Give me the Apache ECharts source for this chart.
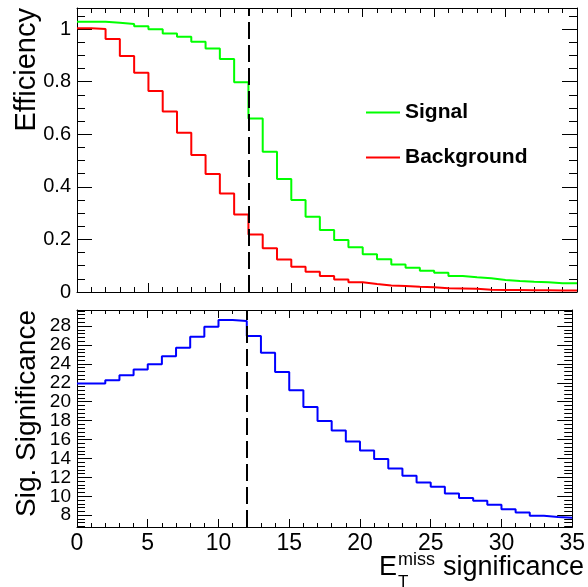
<!DOCTYPE html>
<html>
<head>
<meta charset="utf-8">
<script src="https://cdn.jsdelivr.net/npm/echarts@6/dist/echarts.min.js"></script>
<style>
html, body { margin: 0; padding: 0; background: #fff; }
#main { width: 588px; height: 587px; }
</style>
</head>
<body>
<div id="main"></div>
<script>
// bin edges of the histograms (35 bins of width 1)
var binEdges = [0,1,2,3,4,5,6,7,8,9,10,11,12,13,14,15,16,17,18,19,20,21,22,23,24,25,26,27,28,29,30,31,32,33,34,35];
var signalEff = [1.028,1.028,1.024,1.019,1.011,0.999,0.983,0.971,0.952,0.926,0.886,0.798,
	0.660,0.533,0.430,0.350,0.286,0.236,0.198,0.170,0.144,0.125,0.105,0.092,0.081,0.073,
	0.061,0.056,0.052,0.046,0.042,0.039,0.037,0.033,0.033];
var backgroundEff = [1.003,1.0,0.962,0.897,0.834,0.764,0.686,0.606,0.521,0.449,0.375,0.295,
	0.219,0.166,0.124,0.096,0.077,0.061,0.048,0.037,0.030,0.025,0.023,0.020,0.018,0.014,
	0.013,0.012,0.009,0.008,0.008,0.007,0.007,0.006,0.006];
var sigSignificance = [21.92,21.92,22.27,22.8,23.41,23.97,24.82,25.7,26.87,27.94,28.65,28.54,
	26.95,25.17,23.15,21.21,19.43,17.95,16.96,15.79,14.83,13.95,12.95,12.18,11.46,11.0,
	10.3,9.81,9.52,9.09,8.64,8.28,7.93,7.82,7.74];
var cutValue = 12;

var FONT = '"Liberation Sans", Arial, Helvetica, sans-serif';

function stepData(vals){
	var d = [];
	for(var i = 0; i < vals.length; i++){
		d.push([binEdges[i], vals[i]]);
	}
	d.push([binEdges[vals.length], vals[vals.length-1]]);
	return d;
}

function xAx(gridIndex, pos, showLabel, tickLen){
	return {
		type: 'value', gridIndex: gridIndex, position: pos,
		min: 0, max: 35, interval: 5,
		axisLine: { show: true, onZero: false, lineStyle: { color: '#000', width: 1 } },
		axisTick: { show: true, inside: true, length: tickLen, lineStyle: { color: '#000' } },
		minorTick: { show: true, splitNumber: 5, length: Math.round(tickLen/2), lineStyle: { color: '#000' } },
		splitLine: { show: false },
		axisLabel: { show: showLabel, color: '#000', fontFamily: FONT, fontSize: 23, margin: 5 }
	};
}

function yAx(gridIndex, pos, opts, showLabel){
	var a = {
		type: 'value', gridIndex: gridIndex, position: pos,
		min: opts.min, max: opts.max,
		axisLine: { show: true, onZero: false, lineStyle: { color: '#000', width: 1 } },
		axisTick: { show: true, inside: true, length: 15, lineStyle: { color: '#000' } },
		minorTick: { show: true, splitNumber: opts.minor, length: 8, lineStyle: { color: '#000' } },
		splitLine: { show: false },
		axisLabel: { show: showLabel, color: '#000', fontFamily: opts.font || FONT, fontSize: opts.fontSize,
			margin: 6, showMaxLabel: false, showMinLabel: opts.showMin }
	};
	if(opts.interval) a.interval = opts.interval;
	if(opts.splitNumber) a.splitNumber = opts.splitNumber;
	return a;
}

var effY = { min: 0, max: 1.08, interval: 0.2, minor: 4, fontSize: 20, showMin: true };
var sigY = { min: 6.75, max: 29.7, splitNumber: 11, minor: 5, fontSize: 19, showMin: false,
	font: '"Liberation Sans Narrow", "Liberation Sans", Arial, sans-serif' };

var cutLine = {
	silent: true, symbol: 'none', animation: false,
	label: { show: false },
	lineStyle: { color: '#000', type: [17, 6], width: 2 },
	data: [{ xAxis: cutValue }]
};

// x title pieces, laid out from right to left
var ctx = document.createElement('canvas').getContext('2d');
function textW(str, font){ ctx.font = font; return ctx.measureText(str).width; }
var sigFont = '27px ' + FONT, supFont = '18px ' + FONT;
var sigLeft = 584 - textW('significance', sigFont);
var missLeft = sigLeft - 8 - textW('miss', supFont);
var eLeft = missLeft - 1 - textW('E', sigFont);

var myChart = echarts.init(document.getElementById('main'));
var option = {
	animation: false,
	backgroundColor: '#fff',
	grid: [
		{ left: 77, right: 11, top: 8, height: 284 },
		{ left: 77, right: 11, top: 310, height: 217 }
	],
	xAxis: [ xAx(0, 'bottom', false, 9), xAx(0, 'top', false, 9), xAx(1, 'bottom', true, 8), xAx(1, 'top', false, 8) ],
	yAxis: [ yAx(0, 'left', effY, true), yAx(0, 'right', effY, false), yAx(1, 'left', sigY, true), yAx(1, 'right', sigY, false) ],
	legend: {
		orient: 'vertical', left: 361, top: 97,
		icon: 'rect', itemWidth: 34, itemHeight: 2, itemGap: 24,
		textStyle: { color: '#000', fontFamily: FONT, fontSize: 21, fontWeight: 'bold', padding: [0, 0, 0, 0] },
		data: ['Signal', 'Background']
	},
	series: [
		{
			name: 'Signal', type: 'line', step: 'end', xAxisIndex: 0, yAxisIndex: 0,
			showSymbol: false, symbol: 'none', color: '#00ff00',
			itemStyle: { color: '#00ff00' },
			lineStyle: { color: '#00ff00', width: 2 },
			data: stepData(signalEff)
		},
		{
			name: 'Background', type: 'line', step: 'end', xAxisIndex: 0, yAxisIndex: 0,
			showSymbol: false, symbol: 'none', color: '#ff0000',
			itemStyle: { color: '#ff0000' },
			lineStyle: { color: '#ff0000', width: 2 },
			data: stepData(backgroundEff),
			markLine: cutLine
		},
		{
			name: 'Significance', type: 'line', step: 'end', xAxisIndex: 2, yAxisIndex: 2,
			showSymbol: false, symbol: 'none', color: '#0000ff',
			lineStyle: { color: '#0000ff', width: 2 },
			data: stepData(sigSignificance),
			markLine: cutLine
		}
	],
	graphic: [
		{ type: 'text', x: 27, y: 8, rotation: Math.PI/2,
			style: { text: 'Efficiency', font: '29px ' + FONT, fill: '#000', align: 'right', verticalAlign: 'middle' } },
		{ type: 'text', x: 27, y: 310, rotation: Math.PI/2,
			style: { text: 'Sig. Significance', font: '28px ' + FONT, fill: '#000', align: 'right', verticalAlign: 'middle' } },
		{ type: 'text', x: eLeft, y: 568,
			style: { text: 'E', font: sigFont, fill: '#000', align: 'left', verticalAlign: 'middle' } },
		{ type: 'text', x: missLeft, y: 582,
			style: { text: 'T', font: '17px ' + FONT, fill: '#000', align: 'left', verticalAlign: 'middle' } },
		{ type: 'text', x: missLeft, y: 560,
			style: { text: 'miss', font: supFont, fill: '#000', align: 'left', verticalAlign: 'middle' } },
		{ type: 'text', x: sigLeft, y: 568,
			style: { text: 'significance', font: sigFont, fill: '#000', align: 'left', verticalAlign: 'middle' } }
	]
};
myChart.setOption(option);
</script>
</body>
</html>
